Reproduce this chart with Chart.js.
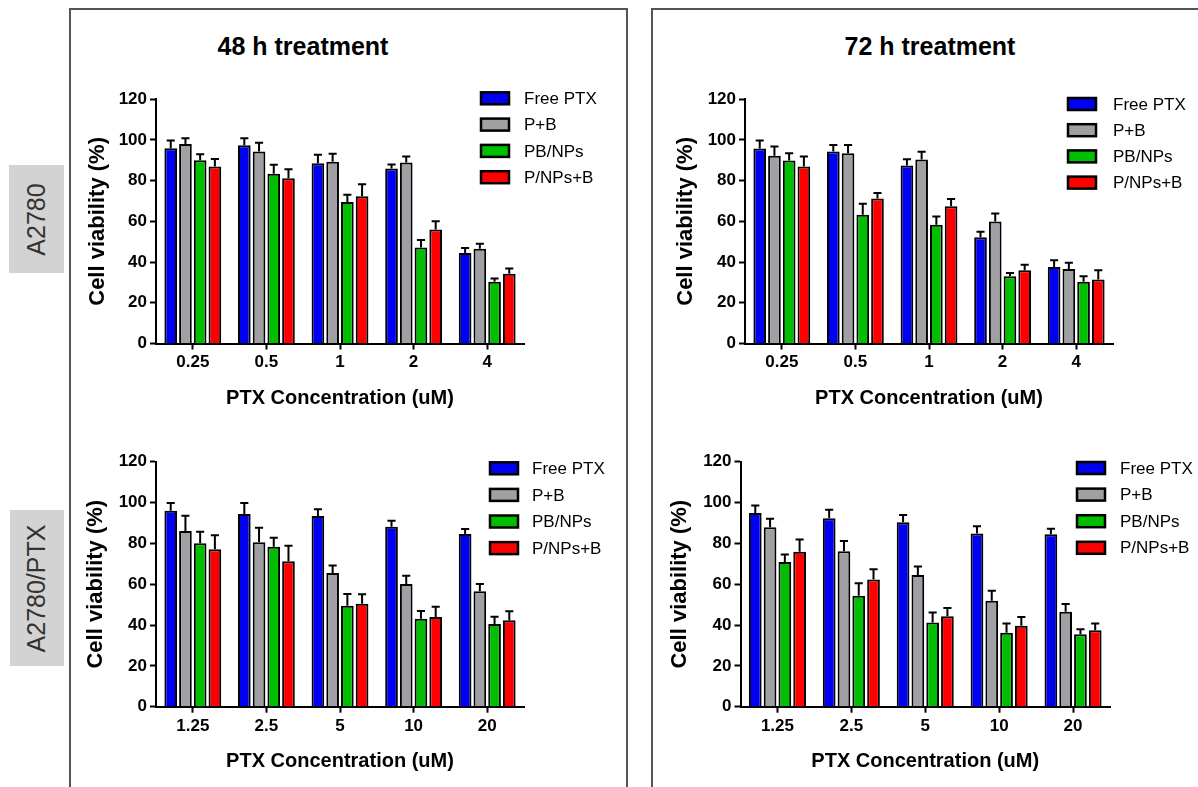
<!DOCTYPE html>
<html>
<head>
<meta charset="utf-8">
<script src="https://cdn.jsdelivr.net/npm/chart.js@4.4.1/dist/chart.umd.min.js"></script>
<style>
    html, body { margin: 0; padding: 0; background: #fff; }
    body { width: 1198px; height: 787px; position: relative; overflow: hidden; font-family: "Liberation Sans", Arial, sans-serif; }
    .frame { position: absolute; box-sizing: border-box; border: 2px solid #555; border-bottom: none; }
    canvas { position: absolute; }
    .rowlab { position: absolute; background: #d3d3d3; color: #333; font-size: 25px; display: flex; align-items: center; justify-content: center; }
    .rowlab span { transform: rotate(-90deg); white-space: nowrap; }
    .title { position: absolute; font-weight: bold; font-size: 25px; transform: translate(-50%, -50%); white-space: nowrap; color: #000; }
</style>
</head>
<body>
<div class="frame" style="left:69px;top:8px;width:559px;height:800px;"></div>
<div class="frame" style="left:651px;top:8px;width:600px;height:800px;"></div>
<div class="rowlab" style="left:9px;top:165px;width:55px;height:108px;"><span>A2780</span></div>
<div class="rowlab" style="left:10px;top:510px;width:54px;height:156px;"><span>A2780/PTX</span></div>
<div class="title" style="left:303px;top:46px;">48 h treatment</div>
<div class="title" style="left:930px;top:46px;">72 h treatment</div>

<script>
// categories
const concA2780 = ['0.25', '0.5', '1', '2', '4'];
const concA2780PTX = ['1.25', '2.5', '5', '10', '20'];
const seriesNames = ['Free PTX', 'P+B', 'PB/NPs', 'P/NPs+B'];

// cell viability (%), one row per series: Free PTX, P+B, PB/NPs, P/NPs+B
const a2780_48h = [
    [96, 97.4, 88.6, 86, 44.5],
    [98, 94.3, 89.3, 88.9, 46.6],
    [90, 83.4, 69.5, 47.2, 30.4],
    [87, 81.2, 72.3, 56, 34.3]
];
const a2780_48h_err = [
    [3.7, 3.5, 4.1, 2, 2.4],
    [2.8, 4.4, 3.9, 3, 2.4],
    [3, 4.4, 3.6, 3.6, 1.6],
    [3.7, 4.4, 5.9, 4.1, 2.6]
];
const a2780_72h = [
    [95.8, 94.3, 87.5, 52.2, 37.6],
    [92.2, 93.5, 90.4, 60, 36.6],
    [89.9, 63.3, 58.4, 33, 30.4],
    [87, 71.3, 67.4, 36, 31.4]
];
const a2780_72h_err = [
    [3.9, 3.3, 3.1, 2.7, 3.3],
    [4.6, 4.1, 3.8, 3.9, 3.1],
    [3.6, 5.4, 4, 1.7, 2.6],
    [4.9, 2.6, 3.6, 2.7, 4.6]
];
const ptx_48h = [
    [96, 94.4, 93.4, 88.2, 84.6],
    [86, 80.5, 65.5, 60.1, 56.5],
    [80, 78.4, 49.5, 43.1, 40.5],
    [77.1, 71.3, 50.4, 43.9, 42.4]
];
const ptx_48h_err = [
    [3.8, 5.4, 3.3, 2.9, 2.4],
    [7.5, 7.2, 3.6, 4.1, 3.6],
    [5.7, 4.4, 5.7, 3.8, 3.6],
    [6.9, 7.5, 4.7, 5.1, 4.4]
];
const ptx_72h = [
    [94.9, 92.3, 90.3, 84.8, 84.5],
    [87.9, 76.2, 64.5, 51.9, 46.5],
    [70.9, 54.3, 41.2, 36.2, 35.5],
    [75.9, 62.3, 44.3, 39.7, 37.5]
];
const ptx_72h_err = [
    [3.7, 4.2, 3.6, 3.6, 2.6],
    [4.2, 5, 4.2, 4.9, 3.8],
    [3.7, 6.2, 4.9, 4.5, 2.4],
    [6, 5, 4.1, 4.2, 3.2]
];

const barColors = ['#0000f2', '#a0a0a4', '#00bf00', '#ff0000'];
const FONT = '"Liberation Sans", Arial, sans-serif';

// error bars drawn upward from each bar top
const errorBars = {
    id: 'errorBars',
    afterDatasetsDraw(chart) {
        const { ctx } = chart;
        const yScale = chart.scales.y;
        ctx.save();
        ctx.strokeStyle = '#000';
        ctx.lineWidth = 2;
        chart.data.datasets.forEach((ds, i) => {
            const meta = chart.getDatasetMeta(i);
            meta.data.forEach((bar, j) => {
                const top = yScale.getPixelForValue(ds.data[j] + ds.errors[j]);
                const half = bar.width * 0.32;
                ctx.beginPath();
                ctx.moveTo(bar.x, bar.y);
                ctx.lineTo(bar.x, top);
                ctx.moveTo(bar.x - half, top);
                ctx.lineTo(bar.x + half, top);
                ctx.stroke();
            });
        });
        ctx.restore();
    }
};

// legend placed over the top right of the plot
const sideLegend = {
    id: 'sideLegend',
    afterDraw(chart, args, opts) {
        const { ctx } = chart;
        ctx.save();
        ctx.font = '17px ' + FONT;
        ctx.textBaseline = 'middle';
        chart.data.datasets.forEach((ds, i) => {
            const cy = opts.top + i * opts.gap;
            ctx.fillStyle = ds.backgroundColor;
            ctx.fillRect(opts.left, cy - 6, 28, 12);
            ctx.lineWidth = 2.5;
            ctx.strokeStyle = '#000';
            ctx.strokeRect(opts.left, cy - 6, 28, 12);
            ctx.fillStyle = '#000';
            ctx.fillText(ds.label, opts.textLeft, cy + 1);
        });
        ctx.restore();
    }
};

function makeChart(p) {
    const canvas = document.createElement('canvas');
    canvas.width = p.width;
    canvas.height = p.height;
    canvas.style.left = p.left + 'px';
    canvas.style.top = p.top + 'px';
    document.body.appendChild(canvas);

    const datasets = seriesNames.map((name, i) => ({
        label: name,
        data: p.values[i],
        errors: p.errors[i],
        backgroundColor: barColors[i],
        borderColor: '#000',
        borderWidth: 2,
        categoryPercentage: 0.8,
        barPercentage: 0.86
    }));

    return new Chart(canvas, {
        type: 'bar',
        data: { labels: p.labels, datasets: datasets },
        options: {
            responsive: false,
            animation: false,
            layout: { padding: { left: 0, top: p.area.top, right: p.width - p.area.right, bottom: 0 } },
            scales: {
                x: {
                    afterFit: s => { s.height = p.height - p.area.bottom; },
                    grid: { offset: false, drawOnChartArea: false, tickLength: 6, tickWidth: 2, tickColor: '#000' },
                    border: { color: '#000', width: 2 },
                    ticks: { color: '#000', padding: 3, font: { family: FONT, size: 17, weight: 'bold' } },
                    title: {
                        display: true, text: 'PTX Concentration (uM)', color: '#000',
                        padding: { top: 0, bottom: p.xTitlePad },
                        font: { family: FONT, size: 20, weight: 'bold' }
                    }
                },
                y: {
                    min: 0, max: 120,
                    afterFit: s => { s.width = p.area.left; },
                    grid: { drawOnChartArea: false, tickLength: 6, tickWidth: 2, tickColor: '#000' },
                    border: { color: '#000', width: 2 },
                    ticks: { stepSize: 20, color: '#000', padding: 3, font: { family: FONT, size: 17, weight: 'bold' } },
                    title: {
                        display: true, text: 'Cell viability (%)', color: '#000',
                        padding: { top: p.yTitlePad, bottom: 0 },
                        font: { family: FONT, size: 22, weight: 'bold' }
                    }
                }
            },
            plugins: {
                legend: { display: false },
                tooltip: { enabled: false },
                sideLegend: p.legend
            }
        },
        plugins: [errorBars, sideLegend]
    });
}

makeChart({
    left: 70, top: 60, width: 556, height: 360,
    labels: concA2780, values: a2780_48h, errors: a2780_48h_err,
    area: { left: 86, top: 39.3, right: 454, bottom: 283.5 },
    yTitlePad: 14.8, xTitlePad: 10,
    legend: { left: 411, top: 38.3, gap: 26.3, textLeft: 454 }
});
makeChart({
    left: 652, top: 60, width: 546, height: 360,
    labels: concA2780, values: a2780_72h, errors: a2780_72h_err,
    area: { left: 93, top: 39.3, right: 461, bottom: 283.5 },
    yTitlePad: 20.8, xTitlePad: 10,
    legend: { left: 416, top: 44, gap: 26.2, textLeft: 461 }
});
makeChart({
    left: 70, top: 400, width: 556, height: 387,
    labels: concA2780PTX, values: ptx_48h, errors: ptx_48h_err,
    area: { left: 86, top: 61.7, right: 454, bottom: 306.7 },
    yTitlePad: 12.8, xTitlePad: 14,
    legend: { left: 420, top: 68.3, gap: 26.6, textLeft: 462 }
});
makeChart({
    left: 652, top: 400, width: 546, height: 387,
    labels: concA2780PTX, values: ptx_72h, errors: ptx_72h_err,
    area: { left: 88.5, top: 61.7, right: 458, bottom: 306.7 },
    yTitlePad: 14.8, xTitlePad: 14,
    legend: { left: 425, top: 68, gap: 26.6, textLeft: 468 }
});
</script>
</body>
</html>
